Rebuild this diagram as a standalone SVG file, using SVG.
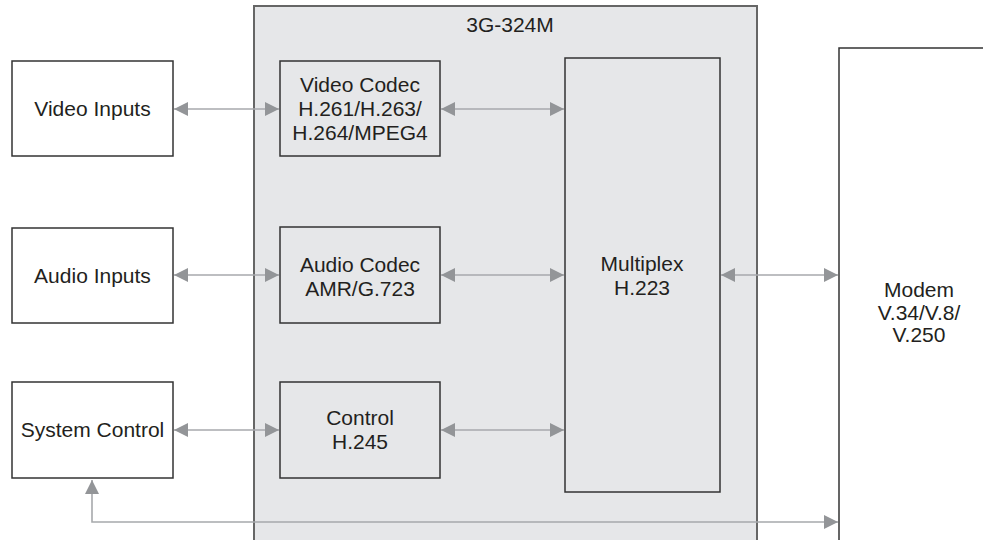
<svg xmlns="http://www.w3.org/2000/svg" width="983" height="540" viewBox="0 0 983 540">
  <style>
    .box { fill: #ffffff; stroke: #333333; stroke-width: 1.5; }
    .inner { fill: #e6e7e9; stroke: #333333; stroke-width: 1.5; }
    .frame { fill: #e6e7e9; stroke: #666666; stroke-width: 2; }
    .lbl { font-family: "Liberation Sans", Arial, sans-serif; font-size: 21px; fill: #231f20; text-anchor: middle; }
    .link { fill: none; stroke: #a7a9ac; stroke-width: 1.6; }
  </style>
  <defs>
    <marker id="head" viewBox="0 0 14 14" refX="14" refY="7" markerWidth="14" markerHeight="14" markerUnits="userSpaceOnUse" orient="auto-start-reverse">
      <path d="M0,0 L14,7 L0,14 Z" fill="#939598"/>
    </marker>
  </defs>

  <g id="stack-3g324m">
    <rect class="frame" x="254" y="6" width="503" height="545"/>
    <text class="lbl" x="510" y="32">3G-324M</text>
  </g>

  <g id="video-inputs">
    <rect class="box" x="12" y="61" width="161" height="95"/>
    <text class="lbl" x="92.5" y="116">Video Inputs</text>
  </g>
  <g id="audio-inputs">
    <rect class="box" x="12" y="228" width="161" height="95"/>
    <text class="lbl" x="92.5" y="283">Audio Inputs</text>
  </g>
  <g id="system-control">
    <rect class="box" x="12" y="382" width="161" height="96"/>
    <text class="lbl" x="92.5" y="437">System Control</text>
  </g>

  <g id="video-codec">
    <rect class="inner" x="280" y="61" width="160" height="95"/>
    <text class="lbl" x="360" y="92">Video Codec</text>
    <text class="lbl" x="360" y="116">H.261/H.263/</text>
    <text class="lbl" x="360" y="140">H.264/MPEG4</text>
  </g>
  <g id="audio-codec">
    <rect class="inner" x="280" y="227" width="160" height="96"/>
    <text class="lbl" x="360" y="272">Audio Codec</text>
    <text class="lbl" x="360" y="296">AMR/G.723</text>
  </g>
  <g id="control">
    <rect class="inner" x="280" y="382" width="160" height="96"/>
    <text class="lbl" x="360" y="425">Control</text>
    <text class="lbl" x="360" y="449">H.245</text>
  </g>
  <g id="multiplex">
    <rect class="inner" x="565" y="58" width="155" height="434"/>
    <text class="lbl" x="642" y="271">Multiplex</text>
    <text class="lbl" x="642" y="295">H.223</text>
  </g>
  <g id="modem">
    <rect class="box" x="839" y="48" width="160" height="510"/>
    <text class="lbl" x="919" y="297">Modem</text>
    <text class="lbl" x="919" y="320">V.34/V.8/</text>
    <text class="lbl" x="919" y="342">V.250</text>
  </g>

  <g id="connectors">
    <line class="link" x1="174" y1="109" x2="279" y2="109" marker-start="url(#head)" marker-end="url(#head)"/>
    <line class="link" x1="441" y1="109" x2="564" y2="109" marker-start="url(#head)" marker-end="url(#head)"/>
    <line class="link" x1="174" y1="275" x2="279" y2="275" marker-start="url(#head)" marker-end="url(#head)"/>
    <line class="link" x1="441" y1="275" x2="564" y2="275" marker-start="url(#head)" marker-end="url(#head)"/>
    <line class="link" x1="174" y1="430" x2="279" y2="430" marker-start="url(#head)" marker-end="url(#head)"/>
    <line class="link" x1="441" y1="430" x2="564" y2="430" marker-start="url(#head)" marker-end="url(#head)"/>
    <line class="link" x1="721" y1="275" x2="838" y2="275" marker-start="url(#head)" marker-end="url(#head)"/>
    <polyline class="link" points="92,480 92,522 838,522" marker-start="url(#head)" marker-end="url(#head)"/>
  </g>
</svg>
